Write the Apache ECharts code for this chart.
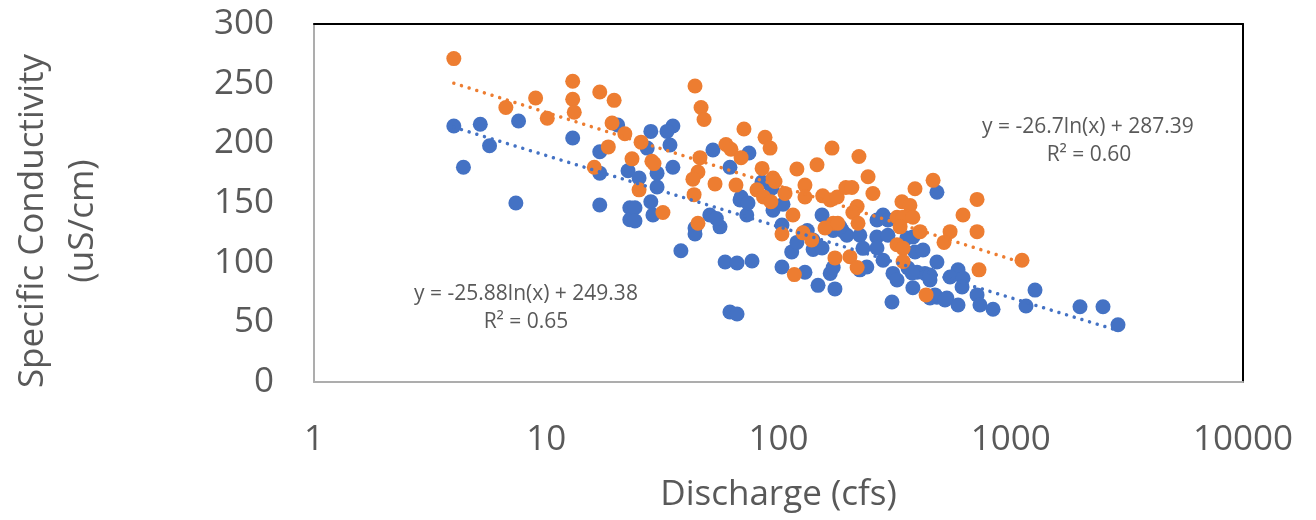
<!DOCTYPE html>
<html><head><meta charset="utf-8">
<script src="https://cdn.jsdelivr.net/npm/echarts@6/dist/echarts.min.js"></script>
<style>html,body{margin:0;padding:0;background:#fff}#c{width:1316px;height:520px}</style>
</head><body><div id="c"></div>
<script>
// Discharge (cfs), Specific Conductivity (uS/cm)
const blueData = [
[4.0,214.5],[5.2,216],[7.6,218.7],[5.7,198],[4.4,180],[13.0,204.5],[17.0,193],[17.0,175],[7.4,150],[17.0,148.3],
[20.3,215.4],[22.5,177],[22.9,146],[22.9,136],[24.1,146],[24.1,135],[28.2,151],[28.8,140],[43.7,129],[43.7,124],
[38,110],[50.6,140],[56,130],[54,137],[68.3,152.5],[73,140],[58.9,100.6],[66.3,99.7],[76.9,101.4],[61.8,58.7],
[66.3,57],[94.7,144],[103.5,131.6],[103.5,96.4],[130,92],[148,81],[175,78],[114,109],[120,117],[133,127],
[141,111],[154,140],[172,127],[188,127],[167,91],[172,96],[197,123],[224,123],[224,94],[231,112],
[265,121.5],[282,140],[282,102],[311,91],[308,67],[379,121.5],[387,109],[395,92],[379,79],[427,91],
[481,159],[357,120.7],[419,110.6],[481,100.6],[593,94],[548,88],[623,87],[617,79.6],[449,85.5],[481,71],
[449,70.4],[531,70.4],[593,64.5],[716,73],[737,64.5],[839,61],[1272,77],[1163,63.7],[1987,63],[2496,63],
[2896,48],[28.2,210],[35.1,214.5],[33.1,210],[34.1,198.6],[27.2,196],[52.2,194.4],[74.6,191.9],[61.8,180],[35.1,180],
[30,175],[25.1,171],[30,163.4],[84.9,167.6],[93.8,162.6],[69,155],[73.9,150],[104.6,149],[140.8,119],[154,112.3],
[184,130],[265.5,112.3],[296,123],[240,96.4],[265.5,135.8],[296,135.8],[361,95.5],[376,91.3],[324,85.5],[449,89.7],
[472,73],[521,68.7]
];
const orangeData = [
[4.0,271],[6.7,230],[9.0,238],[10.1,221],[13.0,252],[13.0,237],[13.2,226],[17.0,243],[19.6,236],[19.2,217],
[21.8,208],[18.5,197],[16.1,180],[23.4,187],[25.6,201],[28.5,185],[29.1,183],[25.1,161],[31.8,142],[43.7,248],
[46.4,230],[47.8,220],[45.9,188],[45.0,176],[42.8,170],[43.3,157],[45.0,133],[53.3,166],[59.4,199],[62.4,195],
[69,188],[71,212],[65.6,165],[87.5,205],[92,196],[85,179],[94.7,171],[96.6,168],[80.8,161],[86.2,155],
[92.8,151],[106.7,158],[115.4,140],[103.5,124],[120,178.5],[146.5,182],[170,196],[222,189],[243,172],[255,158],
[130,165],[130,155],[155,156],[167,152.5],[179,155],[195,163],[207,163],[218,147],[209,142],[172,133],
[127.5,125],[139,119],[117,90],[158.6,129],[180,133],[220,133],[175,104],[203,105],[218,96],[340,151],
[368,148],[387,162],[463,169],[324,138],[344,138],[379,138],[334,130],[407,126],[324,115],[344,112],
[344,101],[432,73],[716,153],[623,140],[548,126],[516,117],[716,126],[730,94],[1118,102]
];
// trendline end points (log fit, straight on a log axis)
const blueTrend = [[4.0,213.5],[2896,43.1]];
const orangeTrend = [[4.0,250.4],[1118,100.0]];
const blueEquation = ['y = -25.88ln(x) + 249.38', 'R² = 0.65'];
const orangeEquation = ['y = -26.7ln(x) + 287.39', 'R² = 0.60'];
const xRange = [1, 10000];
const yRange = [0, 300];
const yStep = 50;
const xTitle = 'Discharge (cfs)';
const yTitle = 'Specific Conductivity\n(uS/cm)';

const BLUE = '#4472C4', ORANGE = '#ED7D31', TXT = '#595959';
const FONT = '"Open Sans", "Noto Sans", sans-serif';

const chart = echarts.init(document.getElementById('c'), null, {renderer: 'canvas'});
const dotted = (c) => ({color: c, width: 3.5, type: [0.01, 8], cap: 'round'});
const frameAxis = {show: true, axisLine: {show: true, onZero: false, lineStyle: {color: '#000', width: 2}},
  axisTick: {show: false}, axisLabel: {show: false}, splitLine: {show: false}};
chart.setOption({
  animation: false,
  backgroundColor: '#fff',
  grid: {left: 314, top: 24, right: 73, bottom: 138, show: false},
  xAxis: [{
    type: 'log', logBase: 10, min: xRange[0], max: xRange[1], position: 'bottom',
    name: xTitle, nameLocation: 'middle', nameGap: 96,
    nameTextStyle: {fontFamily: FONT, fontSize: 35, color: TXT},
    axisLine: {show: true, onZero: false, lineStyle: {color: '#ADADAD', width: 2}},
    axisTick: {show: false}, splitLine: {show: false}, minorTick: {show: false},
    axisLabel: {fontFamily: FONT, fontSize: 35, color: TXT, margin: 41, showMinLabel: true, showMaxLabel: true,
      formatter: v => String(Math.round(v))}
  }, Object.assign({type: 'log', logBase: 10, min: xRange[0], max: xRange[1], position: 'top'}, frameAxis)],
  yAxis: [{
    type: 'value', min: yRange[0], max: yRange[1], interval: yStep, position: 'left',
    name: yTitle, nameLocation: 'middle', nameRotate: 90, nameGap: 206,
    nameTextStyle: {fontFamily: FONT, fontSize: 35, color: TXT, lineHeight: 50, padding: [0, 36, 0, 0]},
    axisLine: {show: true, onZero: false, lineStyle: {color: '#ADADAD', width: 2}},
    axisTick: {show: false}, splitLine: {show: false},
    axisLabel: {fontFamily: FONT, fontSize: 35, color: TXT, margin: 40}
  }, Object.assign({type: 'value', min: yRange[0], max: yRange[1], interval: yStep, position: 'right'}, frameAxis)],
  series: [
    {type: 'scatter', name: 'blue', data: blueData, symbol: 'circle', symbolSize: 15, z: 2,
      itemStyle: {color: BLUE, opacity: 1}},
    {type: 'scatter', name: 'orange', data: orangeData, symbol: 'circle', symbolSize: 15, z: 3,
      itemStyle: {color: ORANGE, opacity: 1}},
    {type: 'line', name: 'blueTrend', data: blueTrend, symbol: 'none', z: 5, lineStyle: dotted(BLUE), silent: true},
    {type: 'line', name: 'orangeTrend', data: orangeTrend, symbol: 'none', z: 5, lineStyle: dotted(ORANGE), silent: true}
  ],
  graphic: [
    {type: 'text', x: 1088, y: 127, z: 10, style: {text: orangeEquation[0], font: '21px ' + FONT, fill: TXT, align: 'center', verticalAlign: 'middle'}},
    {type: 'text', x: 1089, y: 155, z: 10, style: {text: orangeEquation[1], font: '21px ' + FONT, fill: TXT, align: 'center', verticalAlign: 'middle'}},
    {type: 'text', x: 526, y: 294, z: 10, style: {text: blueEquation[0], font: '21px ' + FONT, fill: TXT, align: 'center', verticalAlign: 'middle'}},
    {type: 'text', x: 526, y: 322, z: 10, style: {text: blueEquation[1], font: '21px ' + FONT, fill: TXT, align: 'center', verticalAlign: 'middle'}}
  ]
});
</script></body></html>
